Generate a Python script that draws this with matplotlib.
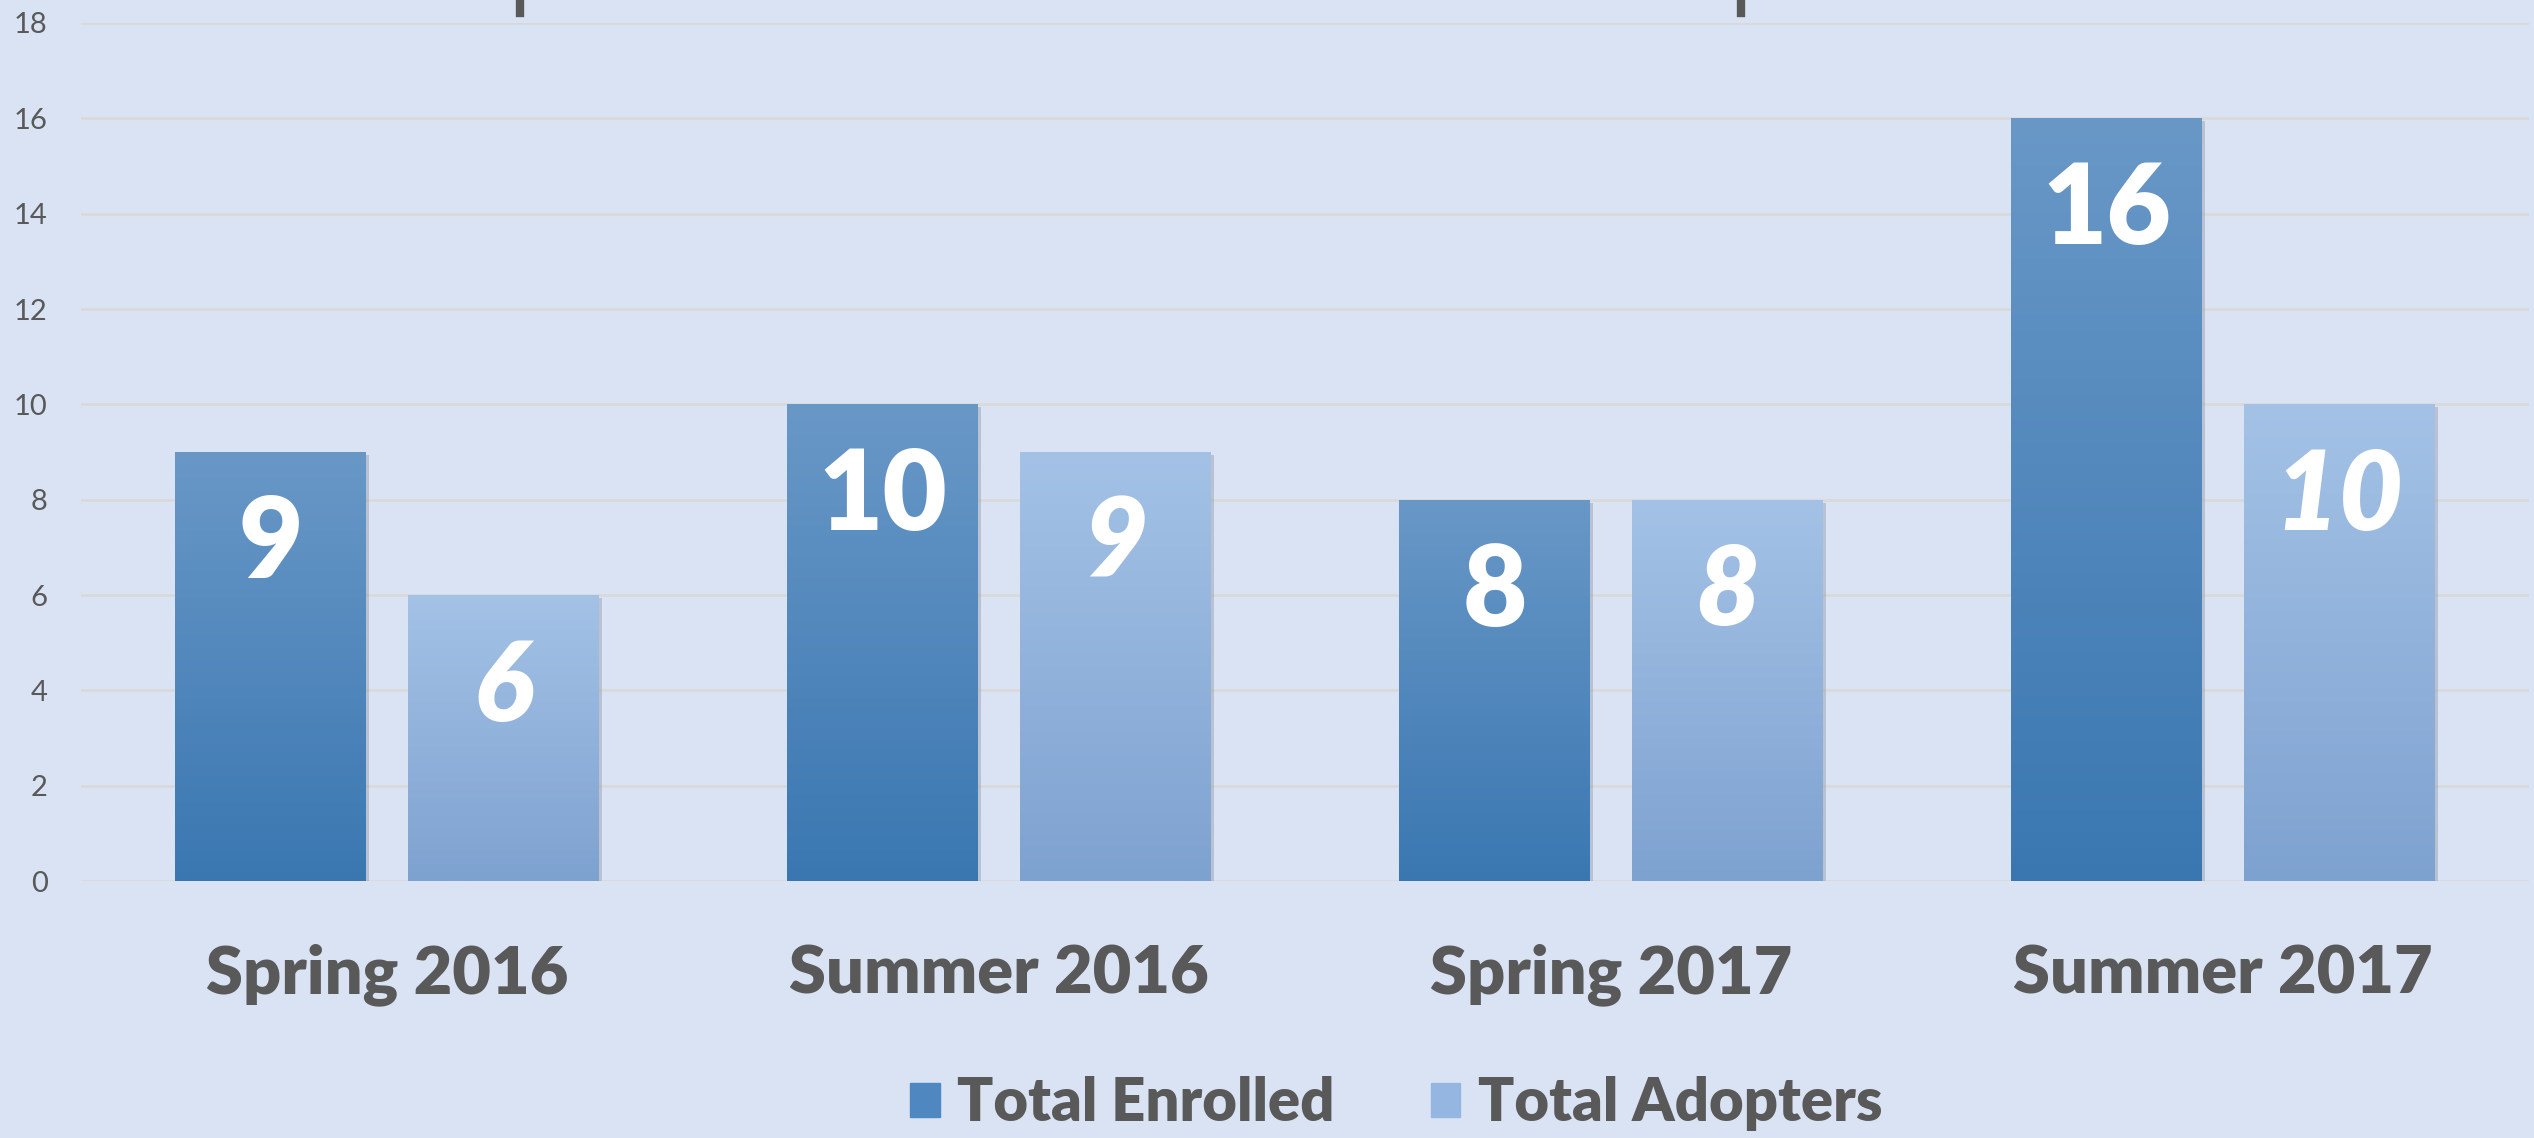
import matplotlib.pyplot as plt
import matplotlib.patches as mpatches
import matplotlib.transforms as mtransforms
import numpy as np

# data
terms = ["Spring 2016", "Summer 2016", "Spring 2017", "Summer 2017"]
enrolled = [9, 10, 8, 16]
adopters = [6, 9, 8, 10]

bg = "#DAE3F3"
grey_txt = "#595959"
enr_top, enr_bot = "#6998C7", "#3A77B1"
adp_top, adp_bot = "#A4C2E6", "#7EA2D0"

plt.rcParams['font.family'] = ['Lato', 'DejaVu Sans']

fig = plt.figure(figsize=(25.34, 11.38), dpi=100, facecolor=bg)
ax = fig.add_axes([0.032, 0.2258, 0.966, 0.754])
ax.set_facecolor(bg)

x = np.arange(len(terms))
w = 0.312
off = 0.19


def hex2rgb(h):
    h = h.lstrip('#')
    return np.array([int(h[i:i + 2], 16) / 255 for i in (0, 2, 4)])


def grad_bars(xs, vals, top, bot, italic):
    bars = ax.bar(xs, vals, w, color=bot, zorder=3, linewidth=0)
    c1, c2 = hex2rgb(top), hex2rgb(bot)
    t = np.linspace(0, 1, 256)[:, None]
    img = (c1[None, :] * (1 - t) + c2[None, :] * t)[:, None, :]
    for b, v in zip(bars, vals):
        x0 = b.get_x()
        # soft shadow
        sh = mpatches.Rectangle((x0, 0), w, v, facecolor="#7f8795", alpha=0.35,
                                linewidth=0, zorder=2,
                                transform=ax.transData + mtransforms.ScaledTranslation(3 / 100, -3 / 100, fig.dpi_scale_trans))
        ax.add_patch(sh)
        im = ax.imshow(img, extent=(x0, x0 + w, 0, v), aspect='auto', zorder=4,
                       interpolation='bilinear')
        im.set_clip_path(b)
        ax.annotate(str(v), (x0 + w / 2, v), xytext=(0, -67), textcoords='offset points',
                    ha='center', va='center', color='white', fontsize=80,
                    fontweight='heavy', style='italic' if italic else 'normal', zorder=5)
    return bars


grad_bars(x - off, enrolled, enr_top, enr_bot, False)
grad_bars(x + off, adopters, adp_top, adp_bot, True)

ax.set_xlim(-0.5, 3.5)
ax.set_ylim(0, 18)
ax.set_yticks(range(0, 19, 2))
ax.yaxis.grid(True, color="#D9D9D9", linewidth=2, zorder=0)
ax.set_axisbelow(True)
for s in ax.spines.values():
    s.set_visible(False)
ax.set_xticks(x)
ax.set_xticklabels(terms, fontsize=48, fontweight='heavy', color=grey_txt)
ax.tick_params(axis='x', length=0, pad=45)
ax.tick_params(axis='y', length=0, pad=24, labelsize=21, labelcolor=grey_txt)

handles = [mpatches.Patch(color="#4F87C0"), mpatches.Patch(color="#94B6E0")]
fig.legend(handles, ["Total Enrolled", "Total Adopters"], loc='center',
           bbox_to_anchor=(0.551, 0.03), ncol=2, frameon=False,
           prop={'size': 43, 'weight': 'heavy'}, labelcolor=grey_txt,
           handlelength=0.5, handleheight=0.5, handletextpad=0.3,
           columnspacing=1.6)

# remnants of the cropped title at the top edge
for xf in (520 / 2534, 1741 / 2534):
    fig.add_artist(plt.Line2D([xf, xf], [1.0, 1 - 13 / 1138], color=grey_txt,
                              linewidth=6, transform=fig.transFigure))

fig.savefig("out.png", dpi=100, facecolor=bg)
